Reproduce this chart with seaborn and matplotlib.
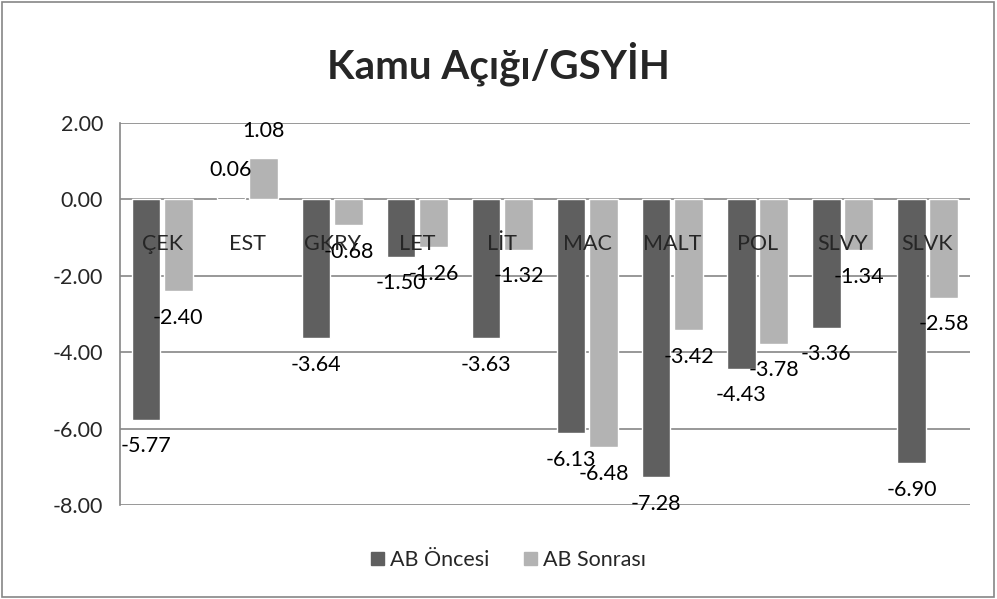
import pandas as pd
import numpy as np
import matplotlib.pyplot as plt
import seaborn as sns
from matplotlib.patches import Rectangle

ulkeler = ["ÇEK", "EST", "GKRY", "LET", "LİT", "MAC", "MALT", "POL", "SLVY", "SLVK"]
ab_oncesi = [-5.77, 0.06, -3.64, -1.50, -3.63, -6.13, -7.28, -4.43, -3.36, -6.90]
ab_sonrasi = [-2.40, 1.08, -0.68, -1.26, -1.32, -6.48, -3.42, -3.78, -1.34, -2.58]
seriler = ["AB Öncesi", "AB Sonrası"]

df = pd.DataFrame({
    "Ulke": ulkeler * 2,
    "Deger": ab_oncesi + ab_sonrasi,
    "Seri": [seriler[0]] * len(ulkeler) + [seriler[1]] * len(ulkeler)
})

sns.set_style("white")
plt.rcParams["font.family"] = ["Lato", "DejaVu Sans"]

fig = plt.figure(figsize=(9.97, 5.99), dpi=100)
ax = fig.add_axes([0.120, 0.157, 0.853, 0.638])

sns.barplot(
    data=df, x="Ulke", y="Deger", hue="Seri",
    palette=["#5f5f5f", "#b3b3b3"], width=0.76, gap=0.12,
    saturation=1, ax=ax, legend=False
)

for cont in ax.containers:
    ax.bar_label(cont, fmt="%.2f", padding=12, fontsize=15.5, color="#000000")

ax.set_ylim(-8, 2)
ax.set_yticks(np.arange(-8, 2.1, 2))
ax.set_yticklabels([f"{v:.2f}" for v in np.arange(-8, 2.1, 2)], fontsize=15.5)
ax.set_xlim(-0.5, len(ulkeler) - 0.5)
ax.set_xticks([])
ax.set_xlabel("")
ax.set_ylabel("")
ax.tick_params(axis="y", length=0, pad=12)
ax.yaxis.grid(True, color="#868686", linewidth=1.2)
ax.set_axisbelow(True)
for s in ["top", "right", "bottom"]:
    ax.spines[s].set_visible(False)
ax.spines["left"].set_color("#868686")
ax.spines["left"].set_linewidth(1.2)

# kategori etiketleri sifir cizgisinin hemen altinda
for i, u in enumerate(ulkeler):
    ax.annotate(u, (i, 0), xytext=(0, -32), textcoords="offset points",
                ha="center", va="center", fontsize=15.5)

fig.text(0.5, 0.893, "Kamu Açığı/GSYİH", ha="center", va="center",
         fontsize=29, fontweight="bold")

handles = [Rectangle((0, 0), 1, 1, color=c) for c in ["#5f5f5f", "#b3b3b3"]]
fig.legend(handles, seriler, loc="center", bbox_to_anchor=(0.51, 0.065),
           ncol=2, frameon=False, fontsize=15.5, handlelength=0.6,
           handleheight=0.6, handletextpad=0.3, columnspacing=1.6)

fig.add_artist(Rectangle((0.002, 0.003), 0.995, 0.994, transform=fig.transFigure,
                         fill=False, edgecolor="#868686", linewidth=1.2))

plt.savefig("out.png", dpi=100)
